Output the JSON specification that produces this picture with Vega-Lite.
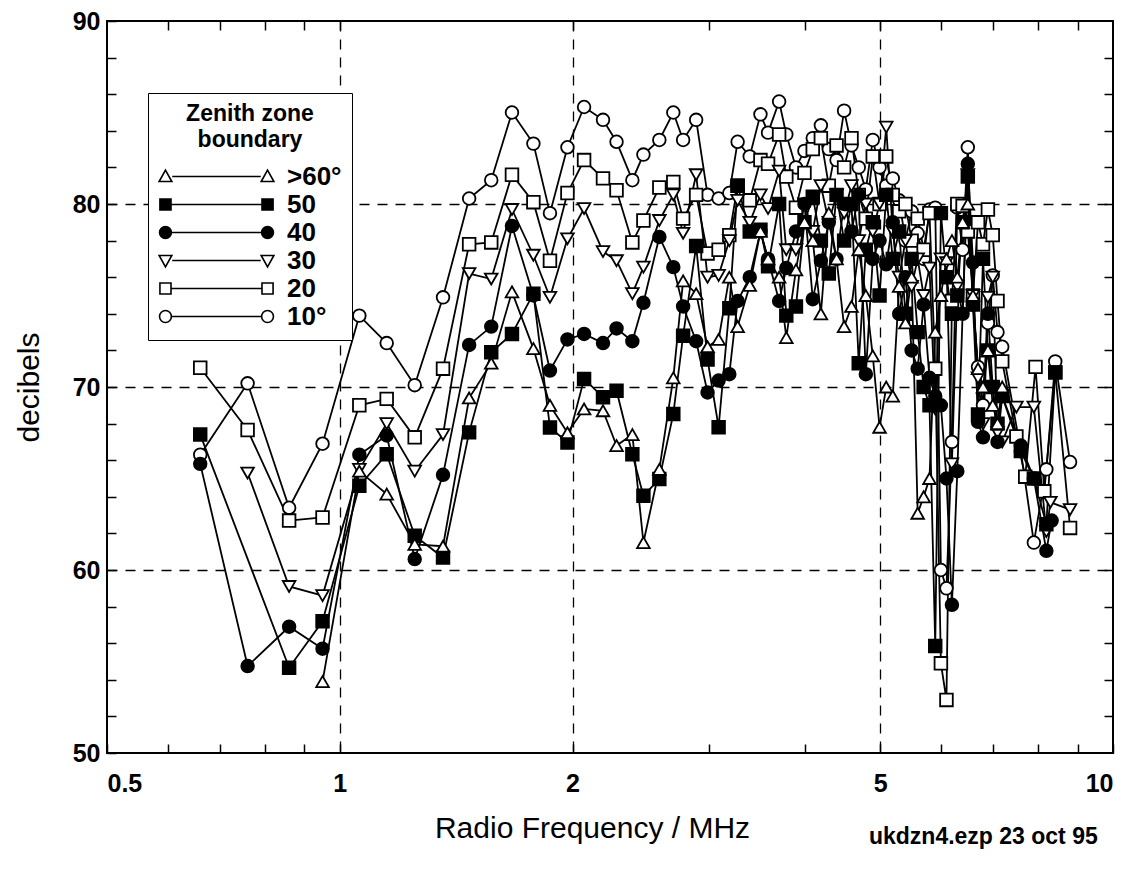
{
"$schema": "https://vega.github.io/schema/vega-lite/v6.json",
"width": 1006, "height": 732,
"autosize": {"type": "none"},
"padding": {"left": 107, "top": 21, "right": 22, "bottom": 117},
"background": "white",
"config": {"view": {"stroke": "black", "strokeWidth": 2}, "font": "Liberation Sans"},
"title": {"text": "ukdzn4.ezp  23 oct 95", "orient": "bottom", "anchor": "end", "fontSize": 23, "fontWeight": "bold", "font": "Liberation Sans", "color": "black", "offset": -17, "dx": -16},
"datasets": {
"pts": [
{"s":"10°","f":0.66,"v":66.3},{"s":"10°","f":0.76,"v":70.2},{"s":"10°","f":0.86,"v":63.4},{"s":"10°","f":0.95,"v":66.9},{"s":"10°","f":1.06,"v":73.9},{"s":"10°","f":1.15,"v":72.4},{"s":"10°","f":1.25,"v":70.1},{"s":"10°","f":1.36,"v":74.9},{"s":"10°","f":1.47,"v":80.3},{"s":"10°","f":1.57,"v":81.3},{"s":"10°","f":1.67,"v":85.0},{"s":"10°","f":1.78,"v":83.3},{"s":"10°","f":1.87,"v":79.5},{"s":"10°","f":1.97,"v":83.1},{"s":"10°","f":2.07,"v":85.3},{"s":"10°","f":2.19,"v":84.6},{"s":"10°","f":2.28,"v":83.4},{"s":"10°","f":2.39,"v":81.3},{"s":"10°","f":2.47,"v":82.7},{"s":"10°","f":2.59,"v":83.5},{"s":"10°","f":2.70,"v":85.0},{"s":"10°","f":2.78,"v":83.5},{"s":"10°","f":2.89,"v":84.6},{"s":"10°","f":2.99,"v":80.5},{"s":"10°","f":3.09,"v":80.3},{"s":"10°","f":3.19,"v":80.6},{"s":"10°","f":3.27,"v":83.4},{"s":"10°","f":3.39,"v":82.6},{"s":"10°","f":3.50,"v":84.9},{"s":"10°","f":3.58,"v":83.9},{"s":"10°","f":3.70,"v":85.6},{"s":"10°","f":3.78,"v":83.8},{"s":"10°","f":3.89,"v":82.0},{"s":"10°","f":3.99,"v":82.9},{"s":"10°","f":4.09,"v":83.6},{"s":"10°","f":4.19,"v":84.3},{"s":"10°","f":4.29,"v":83.0},{"s":"10°","f":4.39,"v":82.4},{"s":"10°","f":4.49,"v":85.1},{"s":"10°","f":4.59,"v":83.2},{"s":"10°","f":4.69,"v":82.0},{"s":"10°","f":4.79,"v":80.8},{"s":"10°","f":4.89,"v":83.5},{"s":"10°","f":4.99,"v":82.0},{"s":"10°","f":5.09,"v":81.0},{"s":"10°","f":5.19,"v":81.4},{"s":"10°","f":5.29,"v":80.2},{"s":"10°","f":5.39,"v":78.0},{"s":"10°","f":5.49,"v":79.6},{"s":"10°","f":5.59,"v":78.4},{"s":"10°","f":5.69,"v":77.0},{"s":"10°","f":5.79,"v":79.7},{"s":"10°","f":5.89,"v":79.8},{"s":"10°","f":5.99,"v":60.0},{"s":"10°","f":6.09,"v":59.0},{"s":"10°","f":6.19,"v":67.0},{"s":"10°","f":6.29,"v":79.8},{"s":"10°","f":6.39,"v":77.5},{"s":"10°","f":6.49,"v":83.1},{"s":"10°","f":6.59,"v":74.5},{"s":"10°","f":6.69,"v":71.1},{"s":"10°","f":6.79,"v":69.0},{"s":"10°","f":6.89,"v":73.5},{"s":"10°","f":6.99,"v":76.1},{"s":"10°","f":7.09,"v":73.0},{"s":"10°","f":7.19,"v":72.2},{"s":"10°","f":7.6,"v":66.5},{"s":"10°","f":7.9,"v":61.5},{"s":"10°","f":8.2,"v":65.5},{"s":"10°","f":8.42,"v":71.4},{"s":"10°","f":8.8,"v":65.9},
{"s":"20","f":0.66,"v":71.05},{"s":"20","f":0.76,"v":67.65},{"s":"20","f":0.86,"v":62.7},{"s":"20","f":0.95,"v":62.87},{"s":"20","f":1.06,"v":69.0},{"s":"20","f":1.15,"v":69.35},{"s":"20","f":1.25,"v":67.25},{"s":"20","f":1.36,"v":71.0},{"s":"20","f":1.47,"v":77.8},{"s":"20","f":1.57,"v":77.9},{"s":"20","f":1.67,"v":81.6},{"s":"20","f":1.78,"v":80.1},{"s":"20","f":1.87,"v":76.9},{"s":"20","f":1.97,"v":80.6},{"s":"20","f":2.07,"v":82.4},{"s":"20","f":2.19,"v":81.4},{"s":"20","f":2.28,"v":80.75},{"s":"20","f":2.39,"v":77.9},{"s":"20","f":2.47,"v":79.1},{"s":"20","f":2.59,"v":80.9},{"s":"20","f":2.70,"v":81.2},{"s":"20","f":2.78,"v":79.2},{"s":"20","f":2.89,"v":80.5},{"s":"20","f":2.99,"v":77.3},{"s":"20","f":3.09,"v":77.5},{"s":"20","f":3.19,"v":78.3},{"s":"20","f":3.27,"v":81.0},{"s":"20","f":3.39,"v":80.2},{"s":"20","f":3.50,"v":82.4},{"s":"20","f":3.58,"v":82.2},{"s":"20","f":3.70,"v":83.8},{"s":"20","f":3.78,"v":81.5},{"s":"20","f":3.89,"v":79.8},{"s":"20","f":3.99,"v":81.7},{"s":"20","f":4.09,"v":83.0},{"s":"20","f":4.19,"v":83.6},{"s":"20","f":4.29,"v":81.0},{"s":"20","f":4.39,"v":83.2},{"s":"20","f":4.49,"v":82.0},{"s":"20","f":4.59,"v":83.6},{"s":"20","f":4.69,"v":80.5},{"s":"20","f":4.79,"v":79.2},{"s":"20","f":4.89,"v":82.6},{"s":"20","f":4.99,"v":80.0},{"s":"20","f":5.09,"v":82.6},{"s":"20","f":5.19,"v":80.5},{"s":"20","f":5.29,"v":79.6},{"s":"20","f":5.39,"v":80.0},{"s":"20","f":5.49,"v":78.0},{"s":"20","f":5.59,"v":79.2},{"s":"20","f":5.69,"v":77.5},{"s":"20","f":5.79,"v":79.5},{"s":"20","f":5.89,"v":71.0},{"s":"20","f":5.99,"v":54.9},{"s":"20","f":6.09,"v":52.9},{"s":"20","f":6.19,"v":74.7},{"s":"20","f":6.29,"v":80.0},{"s":"20","f":6.39,"v":79.9},{"s":"20","f":6.49,"v":78.5},{"s":"20","f":6.59,"v":75.0},{"s":"20","f":6.69,"v":79.0},{"s":"20","f":6.79,"v":77.8},{"s":"20","f":6.89,"v":79.7},{"s":"20","f":6.99,"v":78.3},{"s":"20","f":7.09,"v":74.7},{"s":"20","f":7.19,"v":71.4},{"s":"20","f":7.5,"v":67.3},{"s":"20","f":7.7,"v":65.1},{"s":"20","f":7.94,"v":71.1},{"s":"20","f":8.15,"v":64.3},{"s":"20","f":8.42,"v":70.8},{"s":"20","f":8.8,"v":62.3},
{"s":"30","f":0.76,"v":65.3},{"s":"30","f":0.86,"v":59.1},{"s":"30","f":0.95,"v":58.6},{"s":"30","f":1.06,"v":65.5},{"s":"30","f":1.15,"v":68.0},{"s":"30","f":1.25,"v":65.4},{"s":"30","f":1.36,"v":67.4},{"s":"30","f":1.47,"v":76.2},{"s":"30","f":1.57,"v":75.9},{"s":"30","f":1.67,"v":79.7},{"s":"30","f":1.78,"v":77.2},{"s":"30","f":1.87,"v":74.9},{"s":"30","f":1.97,"v":78.1},{"s":"30","f":2.07,"v":79.75},{"s":"30","f":2.19,"v":77.4},{"s":"30","f":2.28,"v":76.9},{"s":"30","f":2.39,"v":75.1},{"s":"30","f":2.47,"v":76.55},{"s":"30","f":2.59,"v":79.1},{"s":"30","f":2.70,"v":80.5},{"s":"30","f":2.78,"v":78.4},{"s":"30","f":2.89,"v":81.6},{"s":"30","f":2.99,"v":76.0},{"s":"30","f":3.09,"v":76.1},{"s":"30","f":3.19,"v":78.0},{"s":"30","f":3.27,"v":80.2},{"s":"30","f":3.39,"v":79.0},{"s":"30","f":3.50,"v":80.5},{"s":"30","f":3.58,"v":79.75},{"s":"30","f":3.70,"v":81.8},{"s":"30","f":3.78,"v":77.5},{"s":"30","f":3.89,"v":77.5},{"s":"30","f":3.99,"v":80.0},{"s":"30","f":4.09,"v":78.5},{"s":"30","f":4.19,"v":81.0},{"s":"30","f":4.29,"v":79.0},{"s":"30","f":4.39,"v":80.5},{"s":"30","f":4.49,"v":79.5},{"s":"30","f":4.59,"v":81.0},{"s":"30","f":4.69,"v":78.0},{"s":"30","f":4.79,"v":80.0},{"s":"30","f":4.89,"v":78.5},{"s":"30","f":4.99,"v":80.0},{"s":"30","f":5.09,"v":84.2},{"s":"30","f":5.19,"v":78.5},{"s":"30","f":5.29,"v":76.0},{"s":"30","f":5.39,"v":78.0},{"s":"30","f":5.49,"v":75.5},{"s":"30","f":5.59,"v":77.0},{"s":"30","f":5.69,"v":75.0},{"s":"30","f":5.79,"v":76.5},{"s":"30","f":5.89,"v":68.8},{"s":"30","f":5.99,"v":77.0},{"s":"30","f":6.09,"v":76.8},{"s":"30","f":6.19,"v":65.8},{"s":"30","f":6.29,"v":75.5},{"s":"30","f":6.39,"v":74.0},{"s":"30","f":6.49,"v":81.6},{"s":"30","f":6.59,"v":75.0},{"s":"30","f":6.69,"v":70.5},{"s":"30","f":6.79,"v":68.0},{"s":"30","f":6.89,"v":74.9},{"s":"30","f":6.99,"v":76.0},{"s":"30","f":7.09,"v":67.5},{"s":"30","f":7.19,"v":67.0},{"s":"30","f":7.5,"v":68.9},{"s":"30","f":7.9,"v":68.9},{"s":"30","f":8.2,"v":62.1},{"s":"30","f":8.3,"v":63.7},{"s":"30","f":8.8,"v":63.3},
{"s":"40","f":0.66,"v":65.8},{"s":"40","f":0.76,"v":54.75},{"s":"40","f":0.86,"v":56.9},{"s":"40","f":0.95,"v":55.7},{"s":"40","f":1.06,"v":66.3},{"s":"40","f":1.15,"v":67.35},{"s":"40","f":1.25,"v":60.6},{"s":"40","f":1.36,"v":65.2},{"s":"40","f":1.47,"v":72.3},{"s":"40","f":1.57,"v":73.3},{"s":"40","f":1.67,"v":78.8},{"s":"40","f":1.78,"v":75.0},{"s":"40","f":1.87,"v":70.9},{"s":"40","f":1.97,"v":72.6},{"s":"40","f":2.07,"v":72.9},{"s":"40","f":2.19,"v":72.4},{"s":"40","f":2.28,"v":73.2},{"s":"40","f":2.39,"v":72.5},{"s":"40","f":2.47,"v":74.6},{"s":"40","f":2.59,"v":78.2},{"s":"40","f":2.70,"v":76.55},{"s":"40","f":2.78,"v":74.4},{"s":"40","f":2.89,"v":72.5},{"s":"40","f":2.99,"v":69.7},{"s":"40","f":3.09,"v":70.35},{"s":"40","f":3.19,"v":70.7},{"s":"40","f":3.27,"v":74.7},{"s":"40","f":3.39,"v":76.0},{"s":"40","f":3.50,"v":78.5},{"s":"40","f":3.58,"v":77.0},{"s":"40","f":3.70,"v":74.7},{"s":"40","f":3.78,"v":76.5},{"s":"40","f":3.89,"v":78.5},{"s":"40","f":3.99,"v":80.0},{"s":"40","f":4.09,"v":74.8},{"s":"40","f":4.19,"v":76.9},{"s":"40","f":4.29,"v":79.0},{"s":"40","f":4.39,"v":77.0},{"s":"40","f":4.49,"v":80.0},{"s":"40","f":4.59,"v":78.5},{"s":"40","f":4.69,"v":80.5},{"s":"40","f":4.79,"v":70.7},{"s":"40","f":4.89,"v":77.0},{"s":"40","f":4.99,"v":78.0},{"s":"40","f":5.09,"v":76.7},{"s":"40","f":5.19,"v":79.0},{"s":"40","f":5.29,"v":74.0},{"s":"40","f":5.39,"v":76.0},{"s":"40","f":5.49,"v":72.0},{"s":"40","f":5.59,"v":71.0},{"s":"40","f":5.69,"v":74.5},{"s":"40","f":5.79,"v":70.5},{"s":"40","f":5.89,"v":69.5},{"s":"40","f":5.99,"v":69.0},{"s":"40","f":6.09,"v":65.0},{"s":"40","f":6.19,"v":58.1},{"s":"40","f":6.29,"v":65.4},{"s":"40","f":6.39,"v":74.0},{"s":"40","f":6.49,"v":82.2},{"s":"40","f":6.59,"v":76.8},{"s":"40","f":6.69,"v":68.1},{"s":"40","f":6.79,"v":67.25},{"s":"40","f":6.89,"v":74.0},{"s":"40","f":6.99,"v":70.0},{"s":"40","f":7.09,"v":67.0},{"s":"40","f":7.19,"v":69.5},{"s":"40","f":7.6,"v":66.8},{"s":"40","f":7.9,"v":65.0},{"s":"40","f":8.2,"v":61.05},{"s":"40","f":8.33,"v":62.7},
{"s":"50","f":0.66,"v":67.4},{"s":"50","f":0.86,"v":54.66},{"s":"50","f":0.95,"v":57.2},{"s":"50","f":1.06,"v":64.6},{"s":"50","f":1.15,"v":66.33},{"s":"50","f":1.25,"v":61.87},{"s":"50","f":1.36,"v":60.68},{"s":"50","f":1.47,"v":67.52},{"s":"50","f":1.57,"v":71.9},{"s":"50","f":1.67,"v":72.9},{"s":"50","f":1.78,"v":75.1},{"s":"50","f":1.87,"v":67.79},{"s":"50","f":1.97,"v":66.97},{"s":"50","f":2.07,"v":70.44},{"s":"50","f":2.19,"v":69.44},{"s":"50","f":2.28,"v":69.8},{"s":"50","f":2.39,"v":66.33},{"s":"50","f":2.47,"v":64.06},{"s":"50","f":2.59,"v":64.97},{"s":"50","f":2.70,"v":68.53},{"s":"50","f":2.78,"v":72.8},{"s":"50","f":2.89,"v":77.7},{"s":"50","f":2.99,"v":71.5},{"s":"50","f":3.09,"v":67.8},{"s":"50","f":3.19,"v":74.3},{"s":"50","f":3.27,"v":81.0},{"s":"50","f":3.39,"v":78.5},{"s":"50","f":3.50,"v":78.6},{"s":"50","f":3.58,"v":76.6},{"s":"50","f":3.70,"v":80.0},{"s":"50","f":3.78,"v":73.9},{"s":"50","f":3.89,"v":74.4},{"s":"50","f":3.99,"v":79.0},{"s":"50","f":4.09,"v":80.4},{"s":"50","f":4.19,"v":78.0},{"s":"50","f":4.29,"v":76.2},{"s":"50","f":4.39,"v":80.5},{"s":"50","f":4.49,"v":78.0},{"s":"50","f":4.59,"v":80.0},{"s":"50","f":4.69,"v":71.3},{"s":"50","f":4.79,"v":77.5},{"s":"50","f":4.89,"v":79.0},{"s":"50","f":4.99,"v":75.0},{"s":"50","f":5.09,"v":80.5},{"s":"50","f":5.19,"v":77.0},{"s":"50","f":5.29,"v":78.5},{"s":"50","f":5.39,"v":74.0},{"s":"50","f":5.49,"v":77.0},{"s":"50","f":5.59,"v":73.0},{"s":"50","f":5.69,"v":70.0},{"s":"50","f":5.79,"v":69.0},{"s":"50","f":5.89,"v":55.85},{"s":"50","f":5.99,"v":79.5},{"s":"50","f":6.09,"v":76.0},{"s":"50","f":6.19,"v":74.0},{"s":"50","f":6.29,"v":75.0},{"s":"50","f":6.39,"v":79.0},{"s":"50","f":6.49,"v":81.5},{"s":"50","f":6.59,"v":74.5},{"s":"50","f":6.69,"v":68.5},{"s":"50","f":6.79,"v":77.0},{"s":"50","f":6.89,"v":72.0},{"s":"50","f":6.99,"v":70.0},{"s":"50","f":7.09,"v":68.0},{"s":"50","f":7.19,"v":69.5},{"s":"50","f":7.6,"v":66.5},{"s":"50","f":7.9,"v":65.0},{"s":"50","f":8.2,"v":62.5},{"s":"50","f":8.42,"v":70.8},
{"s":">60°","f":0.95,"v":53.9},{"s":">60°","f":1.06,"v":65.4},{"s":">60°","f":1.15,"v":64.15},{"s":">60°","f":1.25,"v":61.4},{"s":">60°","f":1.36,"v":61.3},{"s":">60°","f":1.47,"v":69.4},{"s":">60°","f":1.57,"v":71.3},{"s":">60°","f":1.67,"v":75.2},{"s":">60°","f":1.78,"v":72.1},{"s":">60°","f":1.87,"v":69.0},{"s":">60°","f":1.97,"v":67.5},{"s":">60°","f":2.07,"v":68.8},{"s":">60°","f":2.19,"v":68.7},{"s":">60°","f":2.28,"v":66.8},{"s":">60°","f":2.39,"v":67.4},{"s":">60°","f":2.47,"v":61.5},{"s":">60°","f":2.59,"v":65.5},{"s":">60°","f":2.70,"v":70.5},{"s":">60°","f":2.78,"v":75.8},{"s":">60°","f":2.89,"v":75.1},{"s":">60°","f":2.99,"v":72.2},{"s":">60°","f":3.09,"v":72.6},{"s":">60°","f":3.19,"v":76.0},{"s":">60°","f":3.27,"v":73.3},{"s":">60°","f":3.39,"v":75.55},{"s":">60°","f":3.50,"v":78.5},{"s":">60°","f":3.58,"v":77.0},{"s":">60°","f":3.70,"v":76.0},{"s":">60°","f":3.78,"v":72.7},{"s":">60°","f":3.89,"v":76.4},{"s":">60°","f":3.99,"v":79.0},{"s":">60°","f":4.09,"v":78.0},{"s":">60°","f":4.19,"v":74.0},{"s":">60°","f":4.29,"v":79.5},{"s":">60°","f":4.39,"v":77.0},{"s":">60°","f":4.49,"v":73.3},{"s":">60°","f":4.59,"v":74.4},{"s":">60°","f":4.69,"v":77.5},{"s":">60°","f":4.79,"v":75.0},{"s":">60°","f":4.89,"v":71.7},{"s":">60°","f":4.99,"v":67.8},{"s":">60°","f":5.09,"v":70.0},{"s":">60°","f":5.19,"v":69.5},{"s":">60°","f":5.29,"v":75.5},{"s":">60°","f":5.39,"v":73.5},{"s":">60°","f":5.49,"v":76.0},{"s":">60°","f":5.59,"v":63.1},{"s":">60°","f":5.69,"v":64.0},{"s":">60°","f":5.79,"v":65.0},{"s":">60°","f":5.89,"v":73.0},{"s":">60°","f":5.99,"v":75.0},{"s":">60°","f":6.09,"v":77.0},{"s":">60°","f":6.19,"v":78.0},{"s":">60°","f":6.29,"v":76.0},{"s":">60°","f":6.39,"v":79.0},{"s":">60°","f":6.49,"v":80.0},{"s":">60°","f":6.59,"v":75.0},{"s":">60°","f":6.69,"v":71.0},{"s":">60°","f":6.79,"v":70.0},{"s":">60°","f":6.89,"v":72.0},{"s":">60°","f":6.99,"v":69.0},{"s":">60°","f":7.09,"v":68.0},{"s":">60°","f":7.19,"v":70.0}
],
"keys": [{"s":">60°"},{"s":"50"},{"s":"40"},{"s":"30"},{"s":"20"},{"s":"10°"}]
},
"layer": [
{
"data": {"name": "pts"},
"mark": {"type": "line", "color": "black", "strokeWidth": 1.8},
"encoding": {
"x": {"field": "f", "type": "quantitative", "scale": {"type": "log", "domain": [0.5, 10], "nice": false},
 "axis": {"orient": "bottom", "values": [0.5,0.6,0.7,0.8,0.9,1,2,3,4,5,6,7,8,9,10], "format": "~g",
  "labelExpr": "indexof([0.5,1,2,5,10], datum.value) >= 0 ? datum.label : ''",
  "domain": false, "tickSize": -9, "tickColor": "black", "tickWidth": 1.5,
  "labelFontSize": 25, "labelFontWeight": "bold", "labelColor": "black", "labelPadding": 27, "labelFont": "Liberation Sans",
  "grid": true, "gridColor": "black", "gridWidth": 1.3, "gridDash": [10, 8],
  "gridOpacity": {"condition": {"test": "indexof([1,2,5], datum.value) >= 0", "value": 1}, "value": 0},
  "title": "Radio Frequency / MHz", "titleFontSize": 30, "titleFontWeight": "normal", "titleColor": "black", "titlePadding": 17, "titleFont": "Liberation Sans", "titleX": 485}},
"y": {"field": "v", "type": "quantitative", "scale": {"domain": [50, 90], "nice": false, "zero": false},
 "axis": {"orient": "left", "values": [50,52,54,56,58,60,62,64,66,68,70,72,74,76,78,80,82,84,86,88,90],
  "labelExpr": "datum.value % 10 == 0 ? datum.label : ''",
  "domain": false, "tickSize": -9, "tickColor": "black", "tickWidth": 1.5,
  "labelFontSize": 25, "labelFontWeight": "bold", "labelColor": "black", "labelPadding": 16, "labelFont": "Liberation Sans",
  "grid": true, "gridColor": "black", "gridWidth": 1.3, "gridDash": [10, 8],
  "gridOpacity": {"condition": {"test": "indexof([60,70,80], datum.value) >= 0", "value": 1}, "value": 0},
  "title": "decibels", "titleFontSize": 30, "titleFontWeight": "normal", "titleColor": "black", "titlePadding": 28, "titleFont": "Liberation Sans"}},
"detail": {"field": "s"}
}
},
{
"data": {"name": "pts"},
"mark": {"type": "point", "filled": false, "stroke": "black", "strokeWidth": 1.8, "size": 160, "opacity": 1},
"encoding": {
"x": {"field": "f", "type": "quantitative",
 "axis": {"orient": "top", "values": [0.6,0.7,0.8,0.9,1,2,3,4,5,6,7,8,9], "labels": false, "domain": false, "tickSize": -9, "tickColor": "black", "tickWidth": 1.5, "grid": false, "title": null}},
"y": {"field": "v", "type": "quantitative",
 "axis": {"orient": "right", "values": [52,54,56,58,60,62,64,66,68,70,72,74,76,78,80,82,84,86,88], "labels": false, "domain": false, "tickSize": -9, "tickColor": "black", "tickWidth": 1.5, "grid": false, "title": null}},
"shape": {"field": "s", "type": "nominal", "scale": {"domain": [">60°","50","40","30","20","10°"], "range": ["triangle-up","square","circle","triangle-down","square","circle"]}, "legend": null},
"fill": {"field": "s", "type": "nominal", "scale": {"domain": [">60°","50","40","30","20","10°"], "range": ["white","black","black","white","white","white"]}, "legend": null}
}
},
{
"data": {"name": "keys"},
"mark": {"type": "point", "filled": false, "stroke": "black", "opacity": 0, "size": 729},
"encoding": {
"shape": {"field": "s", "type": "nominal",
 "scale": {"domain": [">60°","50","40","30","20","10°"], "range": [
  "M-3.78,-0.47L-3.31,0.37L-4.25,0.37ZM3.78,-0.47L4.25,0.37L3.31,0.37ZM-3.28,0L3.28,0",
  "M-4.19,-0.41L-3.37,-0.41L-3.37,0.41L-4.19,0.41ZM3.37,-0.41L4.19,-0.41L4.19,0.41L3.37,0.41ZM-3.37,0L3.37,0",
  "M-3.34,0A0.44,0.44,0,1,1,-4.22,0A0.44,0.44,0,1,1,-3.34,0ZM4.22,0A0.44,0.44,0,1,1,3.34,0A0.44,0.44,0,1,1,4.22,0ZM-3.34,0L3.34,0",
  "M-3.78,0.47L-3.31,-0.37L-4.25,-0.37ZM3.78,0.47L4.25,-0.37L3.31,-0.37ZM-3.28,0L3.28,0",
  "M-4.19,-0.41L-3.37,-0.41L-3.37,0.41L-4.19,0.41ZM3.37,-0.41L4.19,-0.41L4.19,0.41L3.37,0.41ZM-3.37,0L3.37,0",
  "M-3.34,0A0.44,0.44,0,1,1,-4.22,0A0.44,0.44,0,1,1,-3.34,0ZM4.22,0A0.44,0.44,0,1,1,3.34,0A0.44,0.44,0,1,1,4.22,0ZM-3.34,0L3.34,0"]},
 "legend": {"title": ["Zenith zone", "boundary"], "orient": "none", "legendX": 41, "legendY": 72,
  "strokeColor": "black", "fillColor": "white", "padding": 10,
  "symbolStrokeColor": "black", "symbolStrokeWidth": 1.6, "symbolOpacity": 1, "symbolSize": 729, "symbolOffset": 44,
  "labelFontSize": 26, "labelFontWeight": "bold", "labelColor": "black", "labelFont": "Liberation Sans", "labelOffset": 56,
  "titleFontSize": 23, "titleFontWeight": "bold", "titleColor": "black", "titleFont": "Liberation Sans", "titleLineHeight": 26, "titleAnchor": "middle", "titlePadding": 10,
  "rowPadding": 0,
  "encode": {"symbols": {"update": {"opacity": {"value": 1}}}}}},
"fill": {"field": "s", "type": "nominal",
 "scale": {"domain": [">60°","50","40","30","20","10°"], "range": ["white","black","black","white","white","white"]},
 "legend": {"title": ["Zenith zone", "boundary"], "orient": "none", "legendX": 41, "legendY": 72,
  "strokeColor": "black", "fillColor": "white", "padding": 10,
  "symbolStrokeColor": "black", "symbolStrokeWidth": 1.6, "symbolOpacity": 1, "symbolSize": 729, "symbolOffset": 44,
  "labelFontSize": 26, "labelFontWeight": "bold", "labelColor": "black", "labelFont": "Liberation Sans", "labelOffset": 56,
  "titleFontSize": 23, "titleFontWeight": "bold", "titleColor": "black", "titleFont": "Liberation Sans", "titleLineHeight": 26, "titleAnchor": "middle", "titlePadding": 10,
  "rowPadding": 0,
  "encode": {"symbols": {"update": {"opacity": {"value": 1}}}}}}
}
}
],
"resolve": {"scale": {"shape": "independent", "fill": "independent"}, "axis": {"x": "independent", "y": "independent"}}
}
